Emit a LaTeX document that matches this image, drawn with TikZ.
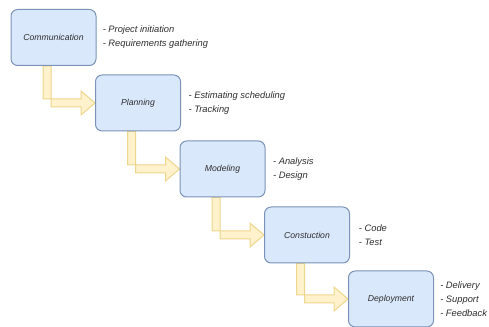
\documentclass[tikz,border=0pt]{standalone}
\usepackage{fontspec}
\setmainfont{Liberation Sans}
\usetikzlibrary{positioning,backgrounds}

\definecolor{phasefill}{RGB}{218,232,252}
\definecolor{phaseline}{RGB}{122,146,184}
\definecolor{flowfill}{RGB}{255,242,204}
\definecolor{flowline}{RGB}{238,214,140}
\definecolor{inktext}{RGB}{45,45,45}

\tikzset{
  phase/.style={draw=phaseline, fill=phasefill, line width=0.75, rounded corners=5pt,
    minimum width=63.75pt, minimum height=42pt, inner sep=0pt,
    text=inktext, font=\fontsize{6.5}{8}\selectfont\itshape},
  notes/.style={inner sep=0pt, align=left, text=inktext,
    font=\fontsize{7}{10.5}\selectfont\itshape},
  flow/.style={draw=flowline, fill=flowfill, line width=0.75}
}

% block arrow from the foot of one phase to the side of the next
\newcommand{\phaseflow}[2]{%
  \coordinate (#1-l) at ([xshift=-7.875pt]#1.south);
  \coordinate (#1-r) at ([xshift=-1.875pt]#1.south);
  \coordinate (#2-t) at ([yshift=3pt]#2.west);
  \coordinate (#2-b) at ([yshift=-3pt]#2.west);
  \coordinate (#2-h) at ([xshift=-10.5pt]#2.west);
  \draw [flow] (#1-l) -- (#1-l |- #2-b) -- (#2-h |- #2-b) -- ([yshift=-9pt]#2-h)
    -- (#2.west) -- ([yshift=9pt]#2-h) -- (#2-h |- #2-t) -- (#1-r |- #2-t)
    -- (#1-r) -- cycle ;
}

\begin{document}
\begin{tikzpicture}[x=0.75pt,y=0.75pt,yscale=-1,xscale=1]
\useasboundingbox (0,0) rectangle (489,327);

%Shape: Rectangle [phases]
\node [phase] (comm) at (53.5,37.5) {Communication};
\node [phase] (plan) at (138,103) {Planning};
\node [phase] (model) at (222.5,169) {Modeling};
\node [phase] (constr) at (307,235) {Constuction};
\node [phase] (deploy) at (391,299) {Deployment};

% Text Node
\node [notes, right=4.5pt of comm] (commnotes) {- Project initiation\\- Requirements gathering};
% Text Node
\node [notes, right=5.5pt of plan] (plannotes) {- Estimating scheduling\\- Tracking};
% Text Node
\node [notes, right=5.5pt of model] (modelnotes) {- Analysis\\- Design};
% Text Node
\node [notes, right=6.5pt of constr] (constrnotes) {- Code\\- Test};
% Text Node
\node [notes, right=4.5pt of deploy] (deploynotes) {- Delivery\\- Support\\- Feedback};

%Shape: Block Arrows
\begin{scope}[on background layer]
\phaseflow{comm}{plan}
\phaseflow{plan}{model}
\phaseflow{model}{constr}
\phaseflow{constr}{deploy}
\end{scope}

\end{tikzpicture}
\end{document}
